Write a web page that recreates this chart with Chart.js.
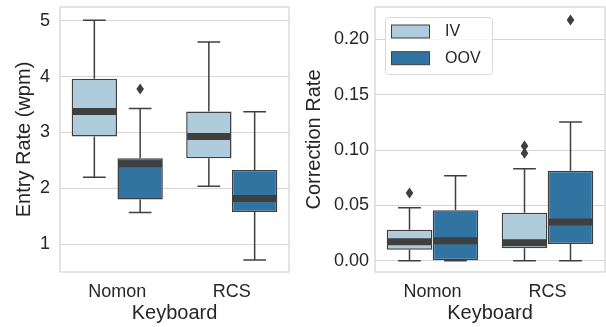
<!DOCTYPE html>
<html>
<head>
<meta charset="utf-8">
<script src="https://cdn.jsdelivr.net/npm/chart.js@4/dist/chart.umd.min.js"></script>
<style>
  html, body { margin: 0; padding: 0; background: #ffffff; }
  #wrap { position: relative; width: 606px; height: 327px; overflow: hidden; }
  #c1box { position: absolute; left: 0; top: 0; width: 300px; height: 327px; }
  #c2box { position: absolute; left: 300px; top: 0; width: 306px; height: 327px; }
</style>
</head>
<body>
<div id="wrap">
  <div id="c1box"><canvas id="c1" width="300" height="327"></canvas></div>
  <div id="c2box"><canvas id="c2" width="306" height="327"></canvas></div>
</div>
<script>
// ---------- DATA ----------
const categories = ['Nomon', 'RCS'];
const seriesNames = ['IV', 'OOV'];

// five-number summaries per category: [lowWhisker, Q1, median, Q3, highWhisker]
const entryIV  = [[2.20, 2.93, 3.375, 3.96, 5.01], [2.04, 2.54, 2.93, 3.375, 4.62]];
const entryOOV = [[1.57, 1.80, 2.44, 2.54, 3.43], [0.72, 1.58, 1.82, 2.33, 3.37]];
const entryIVOut  = [[], []];
const entryOOVOut = [[3.78], []];

const corrIV  = [[0, 0.0099, 0.0172, 0.0280, 0.0479], [0, 0.0112, 0.0163, 0.0434, 0.0831]];
const corrOOV = [[0, 0.0000, 0.0180, 0.0455, 0.0768], [0, 0.0151, 0.0350, 0.0813, 0.1253]];
const corrIVOut  = [[0.0612], [0.0970, 0.1036]];
const corrOOVOut = [[], [0.2175]];

const entryTicks = [1, 2, 3, 4, 5];
const entryTickLabels = ['1', '2', '3', '4', '5'];
const corrTicks = [0, 0.05, 0.10, 0.15, 0.20];
const corrTickLabels = ['0.00', '0.05', '0.10', '0.15', '0.20'];

// ---------- STYLE ----------
const FONT = "'Liberation Sans', Arial, Helvetica, sans-serif";
const TEXT = '#262626';
const EDGE = '#3f3f3f';
const GRID = '#d5d5d5';
const FILL = ['#aeccdb', '#3274a1'];

const boxPlugin = {
  id: 'boxParts',
  afterDatasetsDraw(chart) {
    const ctx = chart.ctx;
    const ys = chart.scales.y;
    const summ = chart.options.plugins.boxParts.summaries;
    const outs = chart.options.plugins.boxParts.outliers;
    ctx.save();
    for (let d = 0; d < summ.length; d++) {
      const meta = chart.getDatasetMeta(d);
      meta.data.forEach((el, j) => {
        const s = summ[d][j];
        const x = el.x, w = el.width;
        const yLo = ys.getPixelForValue(s[0]);
        const yQ1 = ys.getPixelForValue(s[1]);
        const yMed = ys.getPixelForValue(s[2]);
        const yQ3 = ys.getPixelForValue(s[3]);
        const yHi = ys.getPixelForValue(s[4]);
        ctx.strokeStyle = EDGE;
        ctx.lineWidth = 1.5;
        ctx.lineCap = 'butt';
        ctx.beginPath();
        ctx.moveTo(x, yQ3); ctx.lineTo(x, yHi);
        ctx.moveTo(x, yQ1); ctx.lineTo(x, yLo);
        ctx.moveTo(x - w / 4, yHi); ctx.lineTo(x + w / 4, yHi);
        ctx.moveTo(x - w / 4, yLo); ctx.lineTo(x + w / 4, yLo);
        ctx.stroke();
        // median
        ctx.lineWidth = 7;
        ctx.beginPath();
        ctx.moveTo(x - w / 2 + 1, yMed); ctx.lineTo(x + w / 2 - 1, yMed);
        ctx.stroke();
        // outliers
        ctx.fillStyle = EDGE;
        outs[d][j].forEach(v => {
          const yo = ys.getPixelForValue(v);
          ctx.beginPath();
          ctx.moveTo(x, yo - 5.5);
          ctx.lineTo(x + 3.8, yo);
          ctx.lineTo(x, yo + 5.5);
          ctx.lineTo(x - 3.8, yo);
          ctx.closePath();
          ctx.fill();
        });
      });
    }
    ctx.restore();
  }
};

const framePlugin = {
  id: 'frame',
  beforeDatasetsDraw(chart) {
    const a = chart.chartArea, ctx = chart.ctx;
    ctx.save();
    ctx.strokeStyle = GRID;
    ctx.lineWidth = 1.25;
    ctx.strokeRect(a.left, a.top, a.right - a.left, a.bottom - a.top);
    ctx.restore();
  }
};

const legendPlugin = {
  id: 'boxLegend',
  afterDraw(chart) {
    const opt = chart.options.plugins.boxLegend;
    if (!opt || !opt.show) return;
    const ctx = chart.ctx;
    const a = chart.chartArea;
    const bx = a.left + 10, by = a.top + 10, bw = 107, bh = 57;
    ctx.save();
    ctx.fillStyle = 'rgba(255,255,255,0.8)';
    ctx.strokeStyle = '#d8d8d8';
    ctx.lineWidth = 1;
    ctx.beginPath();
    ctx.roundRect(bx + 0.5, by + 0.5, bw, bh, 3);
    ctx.fill();
    ctx.stroke();
    ctx.font = '16px ' + FONT;
    ctx.textBaseline = 'middle';
    seriesNames.forEach((n, i) => {
      const py = by + 8 + i * 26.7;
      ctx.fillStyle = FILL[i];
      ctx.fillRect(bx + 6.5, py, 38, 13);
      ctx.strokeStyle = EDGE;
      ctx.lineWidth = 1;
      ctx.strokeRect(bx + 6.5, py, 38, 13);
      ctx.fillStyle = TEXT;
      ctx.fillText(n, bx + 60, py + 7);
    });
    ctx.restore();
  }
};

function makeChart(id, iv, oov, ivOut, oovOut, ymin, ymax, ticks, tickLabels, yTitle, yAxisWidth, padRight, legend, titlePad, tickPad) {
  return new Chart(document.getElementById(id), {
    type: 'bar',
    data: {
      labels: categories,
      datasets: [
        { label: seriesNames[0], data: iv.map(s => [s[1], s[3]]), backgroundColor: FILL[0],
          borderColor: EDGE, borderWidth: 1.5, borderSkipped: false,
          categoryPercentage: 0.8, barPercentage: 0.99 },
        { label: seriesNames[1], data: oov.map(s => [s[1], s[3]]), backgroundColor: FILL[1],
          borderColor: EDGE, borderWidth: 1.5, borderSkipped: false,
          categoryPercentage: 0.8, barPercentage: 0.99 }
      ]
    },
    options: {
      responsive: false,
      animation: false,
      layout: { padding: { top: 7, right: padRight, left: 0, bottom: 0 } },
      plugins: {
        legend: { display: false },
        tooltip: { enabled: false },
        boxParts: { summaries: [iv, oov], outliers: [ivOut, oovOut] },
        boxLegend: { show: legend }
      },
      scales: {
        x: {
          grid: { display: false, drawTicks: false },
          border: { display: false },
          ticks: { color: TEXT, font: { family: FONT, size: 18 }, padding: 9 },
          title: { display: true, text: 'Keyboard', color: TEXT, font: { family: FONT, size: 20 }, padding: { top: 0, bottom: 2 } },
          afterFit(s) { s.height = 55; s.paddingLeft = 0; s.paddingRight = 0; }
        },
        y: {
          min: ymin, max: ymax,
          grid: { color: GRID, lineWidth: 1, drawTicks: false },
          border: { display: false },
          afterBuildTicks(s) { s.ticks = ticks.map(v => ({ value: v })); },
          ticks: {
            color: TEXT, font: { family: FONT, size: 18 }, padding: tickPad,
            callback: (v) => { const k = ticks.findIndex(t => Math.abs(t - v) < 1e-9); return k >= 0 ? tickLabels[k] : ''; }
          },
          title: { display: true, text: yTitle, color: TEXT, font: { family: FONT, size: 20 }, padding: { top: titlePad, bottom: 0 } },
          afterFit(s) { s.width = yAxisWidth; s.paddingTop = 0; s.paddingBottom = 0; }
        }
      }
    },
    plugins: [framePlugin, boxPlugin, legendPlugin]
  });
}

makeChart('c1', entryIV, entryOOV, entryIVOut, entryOOVOut, 0.505, 5.245, entryTicks, entryTickLabels, 'Entry Rate (wpm)', 60, 11, false, 12, 10);
makeChart('c2', corrIV, corrOOV, corrIVOut, corrOOVOut, -0.0102, 0.2292, corrTicks, corrTickLabels, 'Correction Rate', 75, 1, true, 2, 6);
</script>
</body>
</html>
